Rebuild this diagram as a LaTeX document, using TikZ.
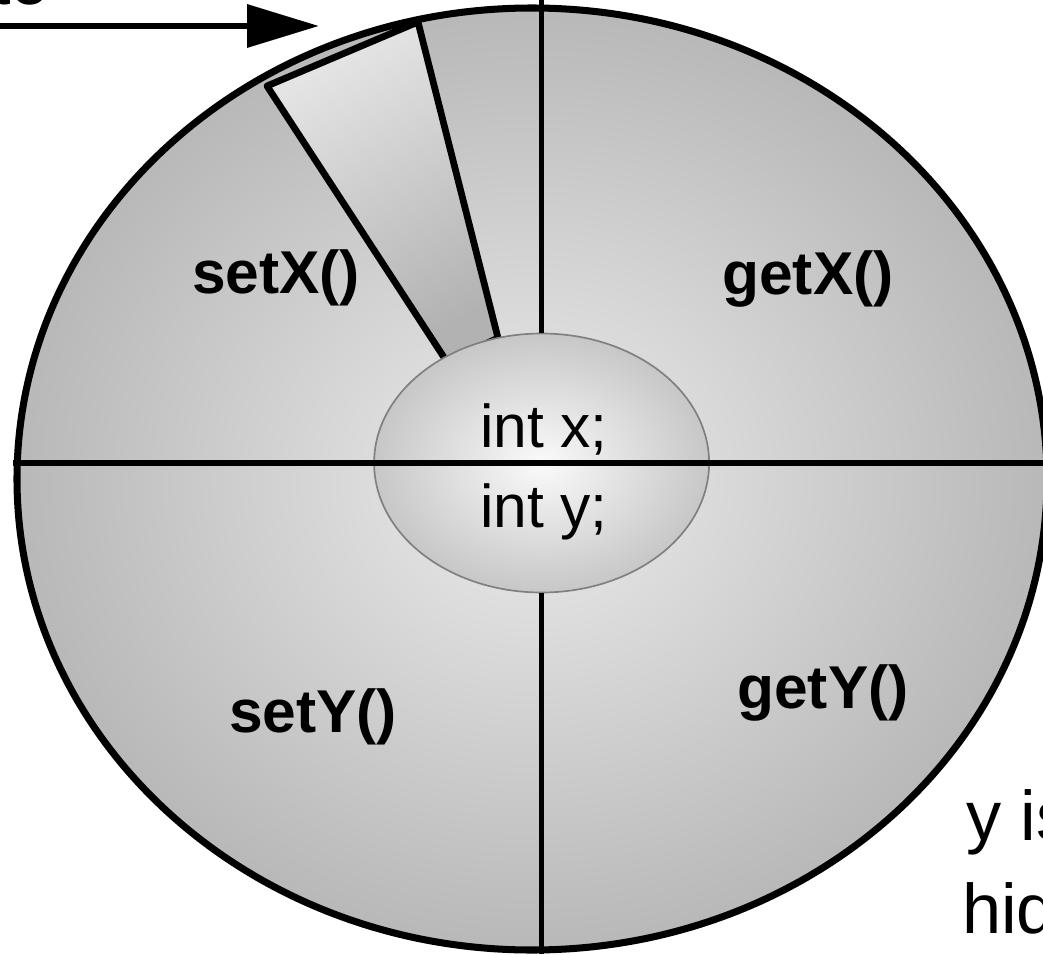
\documentclass[tikz,border=0pt]{standalone}
\usepackage{fontspec}
\setmainfont{Liberation Sans}
\usetikzlibrary{shapes.geometric, arrows.meta, positioning}
\definecolor{shellinner}{RGB}{236,236,236}
\definecolor{shellmid}{RGB}{190,190,190}
\definecolor{shellouter}{RGB}{136,136,136}
\definecolor{coreinner}{RGB}{250,250,250}
\definecolor{coreouter}{RGB}{148,148,148}
\definecolor{coreline}{RGB}{128,128,128}
\definecolor{slotlight}{RGB}{230,230,230}
\definecolor{slotdark}{RGB}{178,178,178}
\pgfdeclareradialshading{shellshade}{\pgfpointorigin}{color(0bp)=(shellinner); color(22bp)=(shellmid); color(50bp)=(shellouter)}
\pgfdeclareradialshading{coreshade}{\pgfpointorigin}{color(0bp)=(coreinner); color(50bp)=(coreouter)}

\begin{document}
\begin{tikzpicture}[
    method/.style={font=\fontsize{43}{50}\selectfont\bfseries, inner sep=0pt, anchor=base},
    field/.style={font=\fontsize{43}{50}\selectfont, inner sep=0pt, anchor=base},
    note/.style={font=\fontsize{50}{60}\selectfont, inner sep=0pt},
    divider/.style={line width=3.8pt}
  ]
  \useasboundingbox (0,0) rectangle (26.075,-23.85);

  % object shell
  \node[ellipse, draw, line width=5pt, shading=shellshade, minimum width=25.75cm, minimum height=23.55cm, inner sep=0pt] (obj) at (13.3,-11.975) {};
  \draw[line width=4.8pt, line join=round, left color=slotlight, right color=slotdark, shading angle=30] (6.675,-2.15) -- (10.45,-0.55) -- (12.45,-8.45) -- (11.175,-9.05) -- cycle;

  % private data
  \node[ellipse, draw=coreline, line width=1.2pt, shading=coreshade, minimum width=8.375cm, minimum height=6.475cm, inner sep=0pt] (core) at (13.54,-11.575) {};
  \draw[divider] (core.north) -- (core.north |- 0,0.2);
  \draw[divider] (obj.west |- core.center) -- (obj.east |- core.center);
  \draw[divider] (core.south) -- (core.south |- obj.south);

  \node[field] (fx) at (13.6,-11.175) {int x;};
  \node[field] (fy) at (13.6,-13.175) {int y;};

  \node[method] (sx) at (6.9,-7.325) {setX()};
  \node[method] (gx) at (20.2,-7.35) {getX()};
  \node[method] (sy) at (7.825,-18.3) {setY()};
  \node[method] (gy) at (20.575,-17.7) {getY()};

  % notes round the object
  \node[note, anchor=base east] (tonote) at (1.25,-0.12) {to};
  \coordinate (src) at (-0.5,-0.65);
  \coordinate (dst) at (7.975,-0.65);
  \draw[line width=4.8pt, -{Triangle[length=1.8cm, width=1.05cm]}] (src) -- (dst);

  \node[note, anchor=base west] (ynote) at (24.15,-21.0) {y is};
  \node[note, anchor=base west] (hidnote) at (24.05,-23.325) {hid};
\end{tikzpicture}
\end{document}
